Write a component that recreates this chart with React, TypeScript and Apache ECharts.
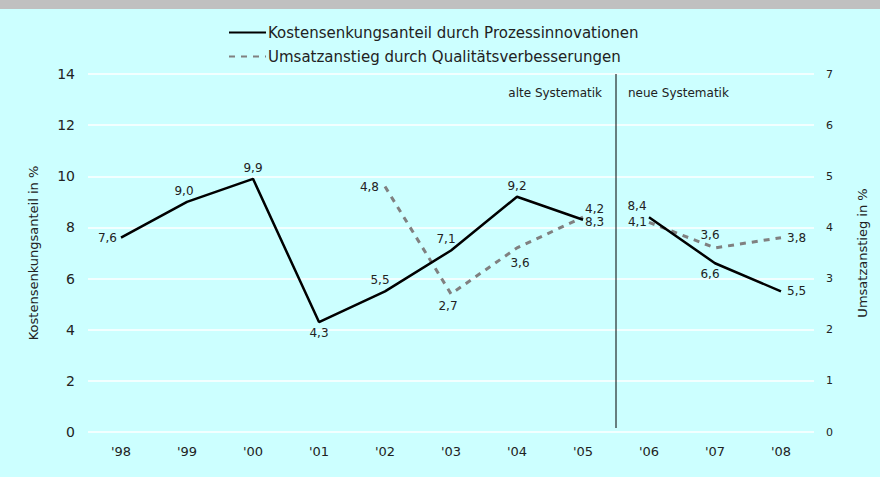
import React, { useEffect, useRef } from "react";
import * as echarts from "echarts";

const categories = ["'98", "'99", "'00", "'01", "'02", "'03", "'04", "'05", "'06", "'07", "'08"];
const kostenName = "Kostensenkungsanteil durch Prozessinnovationen";
const umsatzName = "Umsatzanstieg durch Qualitätsverbesserungen";
// Kostensenkungsanteil (left axis), old system '98-'05, new system '06-'08
const kostenOld = [7.6, 9.0, 9.9, 4.3, 5.5, 7.1, 9.2, 8.3];
const kostenNew = [8.4, 6.6, 5.5];
// Umsatzanstieg (right axis), old system '02-'05, new system '06-'08
const umsatzOldStart = 4;
const umsatzOld = [4.8, 2.7, 3.6, 4.2];
const umsatzNew = [4.1, 3.6, 3.8];
const newStart = 8;
const leftTicks = { min: 0, max: 14, interval: 2 };
const rightTicks = { min: 0, max: 7, interval: 1 };

// label placement styles: [position, distance, dx, dy]
type LP = [string, number, number, number];
const kostenOldLabels: LP[] = [
  ["left", 4, 0, 0],
  ["top", 5, -3, 0],
  ["top", 5, 0, 0],
  ["bottom", 5, 0, 0],
  ["top", 5, -5, 0],
  ["top", 5, -5, 0],
  ["top", 5, 0, 0],
  ["right", 2, 0, 2],
];
const kostenNewLabels: LP[] = [
  ["top", 5, -12, 0],
  ["bottom", 5, -5, 0],
  ["right", 6, 0, 0],
];
const umsatzOldLabels: LP[] = [
  ["left", 6, 0, 0],
  ["bottom", 5, -3, 1],
  ["bottom", 5, 3, 4],
  ["right", 2, 0, -8],
];
const umsatzNewLabels: LP[] = [
  ["left", 2, 0, 0],
  ["top", 5, -5, -2],
  ["right", 6, 0, 0],
];

const FONT = "DejaVu Sans";
const fmt = (v: number) => v.toFixed(1).replace(".", ",");

function build(values: number[], start: number, labels: LP[]) {
  const arr: any[] = categories.map(() => "-");
  values.forEach((v, i) => {
    arr[start + i] = { value: v, label: { position: labels[i][0], distance: labels[i][1] } };
  });
  return arr;
}
function shifts(start: number, labels: LP[]) {
  const arr: [number, number][] = categories.map(() => [0, 0] as [number, number]);
  labels.forEach((l, i) => {
    arr[start + i] = [l[2], l[3]];
  });
  return arr;
}

export default function App() {
  const ref = useRef<HTMLDivElement>(null);
  useEffect(() => {
    document.body.style.margin = "0";
    const chart = echarts.init(ref.current!, null, { renderer: "svg" });
    const labelBase = {
      show: true,
      fontSize: 12,
      color: "#222",
      fontFamily: FONT,
      formatter: (p: any) => fmt(p.value),
    };
    const kostenLine = { color: "#000", width: 2.5, type: "solid" as const };
    const umsatzLine = { color: "#808080", width: 3, type: [6, 6] as any };
    const mk = (sh: [number, number][]) => ({
      type: "line",
      symbol: "circle",
      symbolSize: 0,
      showSymbol: true,
      label: labelBase,
      labelLayout: (p: any) => {
        const s = sh[p.dataIndex] || [0, 0];
        return { dx: s[0], dy: s[1], hideOverlap: false };
      },
    });
    chart.setOption({
      animation: false,
      backgroundColor: "#ccffff",
      textStyle: { fontFamily: FONT },
      graphic: [
        { type: "rect", left: 0, top: 0, shape: { width: 880, height: 9 }, style: { fill: "#c0c0c0" } },
      ],
      legend: {
        orient: "vertical",
        left: 223,
        top: 20,
        itemWidth: 37,
        itemHeight: 14,
        itemGap: 9,
        data: [kostenName, umsatzName],
        itemStyle: { opacity: 0 },
        textStyle: { fontSize: 15, color: "#222", fontFamily: FONT, padding: [0, 0, 0, -3] },
      },
      grid: { left: 88, right: 66, top: 74, bottom: 45 },
      xAxis: [
        {
          type: "category",
          data: categories,
          axisLine: { show: false },
          axisTick: { show: false },
          axisLabel: { fontSize: 13, color: "#222", margin: 13, fontFamily: FONT },
        },
        { type: "value", min: -0.5, max: 10.5, show: false },
      ],
      yAxis: [
        {
          type: "value",
          ...leftTicks,
          name: "Kostensenkungsanteil in %",
          nameLocation: "middle",
          nameGap: 48,
          nameTextStyle: { fontSize: 13, color: "#222", fontFamily: FONT },
          axisLine: { show: false },
          axisTick: { show: false },
          axisLabel: { fontSize: 14, color: "#222", margin: 13, fontFamily: FONT },
          splitLine: { lineStyle: { color: "#ffffff", width: 1.5 } },
        },
        {
          type: "value",
          ...rightTicks,
          position: "right",
          name: "Umsatzanstieg in %",
          nameLocation: "middle",
          nameGap: 42,
          nameRotate: 90,
          nameTextStyle: { fontSize: 13, color: "#222", fontFamily: FONT },
          axisLine: { show: false },
          axisTick: { show: false },
          axisLabel: { fontSize: 11, color: "#222", margin: 12, fontFamily: FONT },
          splitLine: { show: false },
        },
      ],
      series: [
        {
          ...mk(shifts(0, kostenOldLabels)),
          name: kostenName,
          data: build(kostenOld, 0, kostenOldLabels),
          lineStyle: kostenLine,
          itemStyle: { color: "#000" },
          z: 3,
        },
        {
          ...mk(shifts(newStart, kostenNewLabels)),
          name: kostenName,
          data: build(kostenNew, newStart, kostenNewLabels),
          lineStyle: kostenLine,
          itemStyle: { color: "#000" },
          z: 3,
        },
        {
          ...mk(shifts(umsatzOldStart, umsatzOldLabels)),
          name: umsatzName,
          yAxisIndex: 1,
          data: build(umsatzOld, umsatzOldStart, umsatzOldLabels),
          lineStyle: umsatzLine,
          itemStyle: { color: "#808080" },
          z: 2,
        },
        {
          ...mk(shifts(newStart, umsatzNewLabels)),
          name: umsatzName,
          yAxisIndex: 1,
          data: build(umsatzNew, newStart, umsatzNewLabels),
          lineStyle: umsatzLine,
          itemStyle: { color: "#808080" },
          z: 2,
        },
        {
          type: "custom",
          xAxisIndex: 1,
          yAxisIndex: 0,
          data: [[newStart - 0.5]],
          silent: true,
          renderItem: (params: any, api: any) => {
            const x = api.value(0);
            const top = api.coord([x, leftTicks.max]);
            const bottom = api.coord([x, leftTicks.min]);
            return {
              type: "group",
              children: [
                {
                  type: "line",
                  shape: { x1: top[0], y1: top[1], x2: bottom[0], y2: bottom[1] - 4 },
                  style: { stroke: "#000", lineWidth: 1 },
                },
                {
                  type: "text",
                  x: top[0] - 14,
                  y: top[1] + 19,
                  style: {
                    text: "alte Systematik",
                    align: "right",
                    verticalAlign: "middle",
                    fontSize: 12,
                    fontFamily: FONT,
                    fill: "#222",
                  },
                },
                {
                  type: "text",
                  x: top[0] + 12,
                  y: top[1] + 19,
                  style: {
                    text: "neue Systematik",
                    align: "left",
                    verticalAlign: "middle",
                    fontSize: 12,
                    fontFamily: FONT,
                    fill: "#222",
                  },
                },
              ],
            };
          },
        },
      ],
    });
    return () => chart.dispose();
  }, []);
  return <div ref={ref} style={{ width: 880, height: 477 }} />;
}
